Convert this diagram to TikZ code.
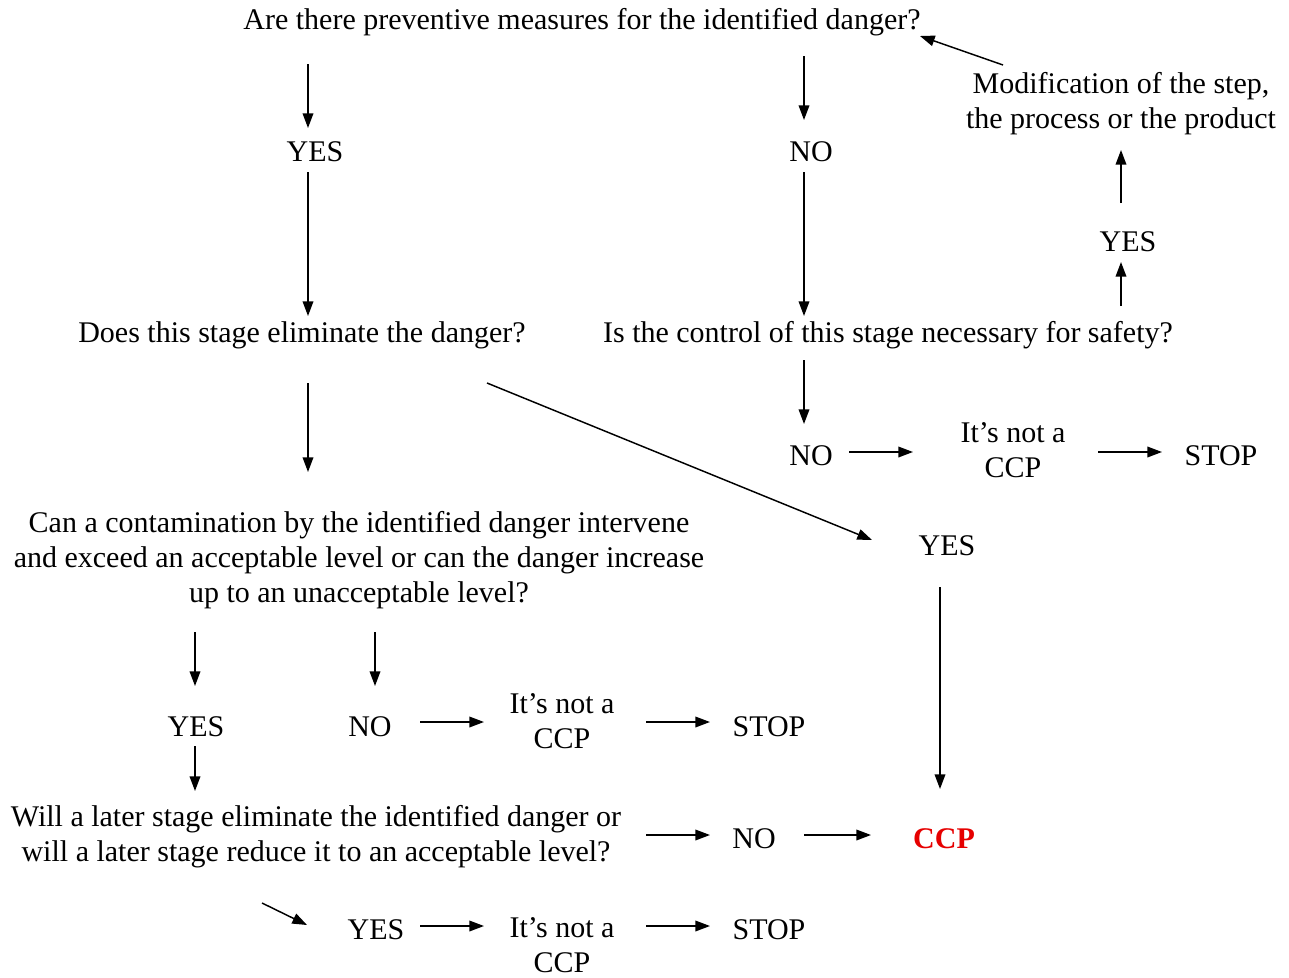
\documentclass[tikz,border=0pt]{standalone}
\usepackage{fontspec}
\setmainfont{Liberation Serif}
\usetikzlibrary{arrows.meta,calc}
\definecolor{ccpred}{RGB}{230,0,0}
\tikzset{
  txt/.style={inner sep=0pt, anchor=base, align=center, font=\fontsize{22.5}{25.9}\selectfont},
  arr/.style={line width=1.1pt, -{Triangle[length=11pt,width=8pt]}},
}
\newcommand\conn[4]{\draw[arr] ($(#1.base)+#2$) -- ($(#3.base)+#4$);}
\begin{document}
\begin{tikzpicture}[x=0.75pt,y=-0.75pt]
\useasboundingbox (0,0) rectangle (1289,978);
\node[txt] (q1) at (582,29) {Are there preventive measures for the identified danger?};
\node[txt] (yes1) at (315,161) {YES};
\node[txt] (no1) at (811,161) {NO};
\node[txt] (q2) at (302,342) {Does this stage eliminate the danger?};
\node[txt] (q3) at (888,342) {Is the control of this stage necessary for safety?};
\node[txt] (yes2) at (1128,251) {YES};
\node[txt] (mod) at (1121,128) {Modification of the step,\\the process or the product};
\node[txt] (no2) at (811,465) {NO};
\node[txt] (nc1) at (1013,477) {It’s not a\\CCP};
\node[txt] (stop1) at (1221,465) {STOP};
\node[txt] (yes3) at (947,555) {YES};
\node[txt, text=ccpred, font=\fontsize{22.5}{25.9}\selectfont\bfseries] (ccp) at (944,848) {CCP};
\node[txt] (q4) at (359,602) {Can a contamination by the identified danger intervene\\and exceed an acceptable level or can the danger increase\\up to an unacceptable level?};
\node[txt] (yes4) at (196,736) {YES};
\node[txt] (no3) at (370,736) {NO};
\node[txt] (nc2) at (562,748) {It’s not a\\CCP};
\node[txt] (stop2) at (769,736) {STOP};
\node[txt] (q5) at (316,861) {Will a later stage eliminate the identified danger or\\will a later stage reduce it to an acceptable level?};
\node[txt] (no4) at (754,848) {NO};
\node[txt] (yes5) at (376,939) {YES};
\node[txt] (nc3) at (562,972) {It’s not a\\CCP};
\node[txt] (stop3) at (769,939) {STOP};

\conn{q1}{(-274,35)}{yes1}{(-7,-33)}
\conn{yes1}{(-7,11)}{q2}{(6,-26)}
\conn{q1}{(222,27)}{no1}{(-7,-41)}
\conn{no1}{(-7,11)}{q3}{(-84,-26)}
\conn{q3}{(233,-36)}{yes2}{(-7,11)}
\conn{yes2}{(-7,-48)}{mod}{(0,22)}
\conn{mod}{(-118,-63)}{q1}{(338,7)}
\conn{q3}{(-84,18)}{no2}{(-7,-41)}
\conn{no2}{(38,-13)}{nc1}{(-100,-25)}
\conn{nc1}{(85,-25)}{stop1}{(-59,-13)}
\conn{q2}{(185,41)}{yes3}{(-75,-15)}
\conn{yes3}{(-7,32)}{ccp}{(-4,-59)}
\conn{q2}{(6,41)}{q4}{(-51,-130)}
\conn{q4}{(-164,30)}{yes4}{(-1,-50)}
\conn{q4}{(16,30)}{no3}{(5,-50)}
\conn{no3}{(50,-14)}{nc2}{(-78,-26)}
\conn{nc2}{(84,-26)}{stop2}{(-59,-14)}
\conn{yes4}{(-1,10)}{q5}{(-121,-70)}
\conn{q5}{(330,-26)}{no4}{(-44,-13)}
\conn{no4}{(50,-13)}{ccp}{(-73,-13)}
\conn{q5}{(-54,42)}{yes5}{(-69,-14)}
\conn{yes5}{(44,-13)}{nc3}{(-78,-46)}
\conn{nc3}{(84,-46)}{stop3}{(-59,-13)}
\end{tikzpicture}
\end{document}
